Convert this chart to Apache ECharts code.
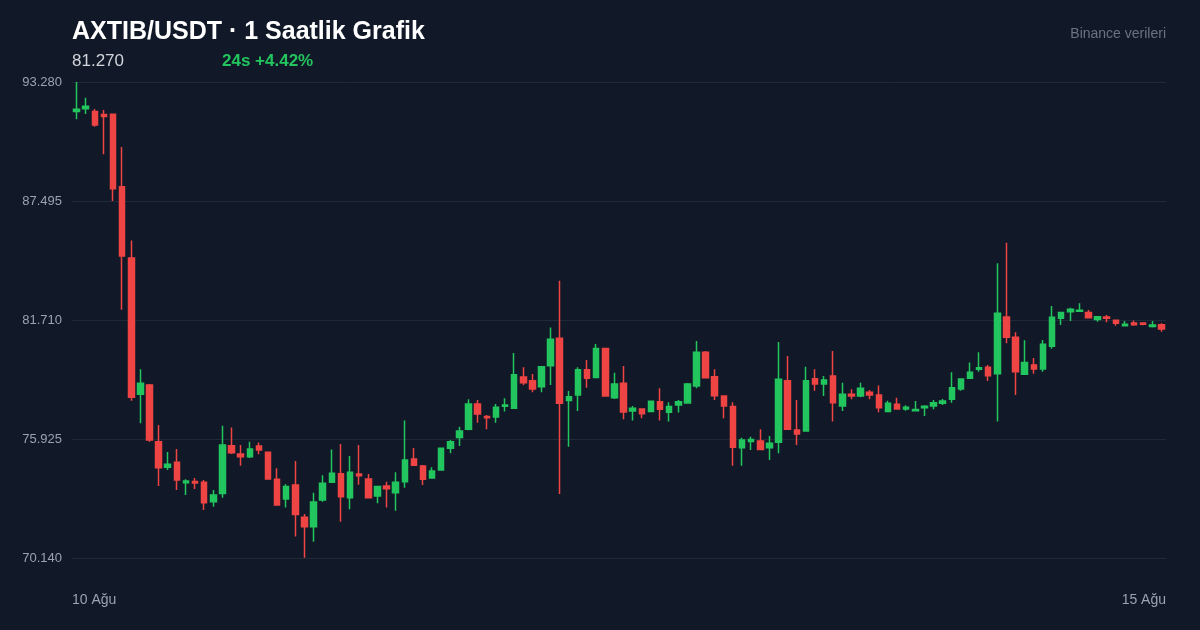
<!DOCTYPE html>
<html>
<head>
<meta charset="utf-8">
<title>AXTIB/USDT</title>
<script src="https://cdn.jsdelivr.net/npm/echarts@6/dist/echarts.min.js"></script>
<style>
  html, body { margin: 0; padding: 0; background: #111827; }
  #chart { width: 1200px; height: 630px; }
</style>
</head>
<body>
<div id="chart"></div>
<script>
// hourly candles, 10 Ağu -> 15 Ağu
var opens = [
    91.85, 91.98, 91.84, 91.70, 91.71, 88.19, 84.72, 78.10, 78.55, 75.79,
    74.55, 74.79, 73.80, 73.86, 73.82, 72.88, 73.27, 75.60, 75.20, 75.06,
    75.58, 75.28, 73.97, 73.01, 73.69, 72.12, 71.66, 72.96, 73.82, 74.24,
    73.07, 74.22, 73.98, 73.15, 73.64, 73.31, 73.85, 74.95, 74.61, 74.03,
    74.42, 75.47, 76.00, 76.40, 77.63, 77.02, 76.99, 77.52, 77.42, 78.94,
    78.76, 78.47, 79.49, 80.82, 77.80, 78.06, 79.29, 78.92, 80.33, 77.93,
    78.63, 77.29, 77.38, 77.26, 77.74, 77.23, 77.58, 77.68, 78.50, 80.14,
    78.95, 78.02, 77.50, 75.50, 75.80, 75.83, 75.50, 75.77, 78.76, 76.36,
    76.31, 78.86, 78.60, 78.99, 77.53, 78.10, 78.02, 78.20, 78.06, 77.26,
    77.61, 77.38, 77.30, 77.45, 77.53, 77.66, 77.86, 78.36, 78.88, 79.31,
    79.41, 79.10, 81.86, 80.87, 79.07, 79.52, 79.33, 80.43, 81.79, 82.11,
    82.14, 82.07, 81.73, 81.86, 81.70, 81.43, 81.56, 81.56, 81.40, 81.48
];
var closes = [
    91.95, 92.10, 91.19, 91.60, 88.09, 84.82, 77.95, 78.63, 75.88, 74.53,
    74.70, 73.93, 73.88, 73.78, 72.83, 73.20, 75.63, 75.26, 75.06, 75.44,
    75.39, 73.98, 72.72, 73.61, 72.26, 71.66, 72.86, 73.77, 74.26, 73.12,
    74.31, 74.14, 73.07, 73.61, 73.51, 73.82, 74.90, 74.65, 73.97, 74.37,
    75.47, 75.79, 76.31, 77.63, 77.14, 76.96, 77.47, 77.58, 79.05, 78.66,
    78.36, 79.44, 80.77, 77.66, 77.98, 79.29, 78.88, 80.33, 78.02, 78.60,
    77.24, 77.42, 77.15, 77.76, 77.37, 77.50, 77.74, 78.60, 80.14, 78.90,
    78.03, 77.53, 75.52, 75.88, 75.90, 75.42, 75.72, 78.83, 76.40, 76.17,
    78.76, 78.60, 78.79, 77.69, 78.10, 78.02, 78.39, 78.06, 77.45, 77.66,
    77.38, 77.47, 77.36, 77.52, 77.69, 77.77, 78.42, 78.84, 79.17, 79.39,
    79.00, 82.04, 80.87, 79.20, 79.64, 79.33, 80.53, 81.84, 82.07, 82.23,
    82.18, 81.82, 81.87, 81.79, 81.55, 81.50, 81.48, 81.50, 81.47, 81.27
];
var lows = [
    91.47, 91.73, 91.11, 89.77, 87.50, 82.21, 77.79, 76.69, 75.79, 73.64,
    74.42, 73.45, 73.20, 73.49, 72.47, 72.63, 73.07, 75.20, 74.63, 75.00,
    75.18, 73.95, 72.68, 72.60, 71.18, 70.15, 70.93, 72.88, 73.80, 71.90,
    72.51, 73.70, 73.05, 72.80, 72.60, 72.44, 73.56, 74.62, 73.69, 74.00,
    74.38, 75.23, 75.58, 76.35, 76.72, 76.40, 76.72, 77.26, 77.40, 78.55,
    78.20, 78.20, 78.55, 73.25, 75.55, 77.29, 78.42, 78.90, 78.00, 77.87,
    76.88, 76.82, 76.93, 77.24, 76.82, 76.77, 77.21, 77.66, 78.39, 78.88,
    77.82, 76.93, 74.63, 74.63, 75.39, 75.40, 74.90, 75.23, 76.38, 75.63,
    76.28, 78.27, 78.02, 76.77, 77.29, 77.86, 77.95, 77.86, 77.23, 77.24,
    77.36, 77.30, 77.30, 77.04, 77.37, 77.58, 77.69, 78.27, 78.86, 79.20,
    78.74, 76.77, 80.58, 78.06, 79.05, 79.10, 79.20, 80.31, 81.47, 81.66,
    82.14, 81.80, 81.63, 81.60, 81.43, 81.42, 81.43, 81.45, 81.35, 81.14
];
var highs = [
    93.28, 92.52, 91.97, 91.92, 91.75, 90.12, 85.58, 79.31, 78.60, 76.61,
    75.29, 75.44, 73.97, 74.03, 73.93, 73.45, 76.57, 76.49, 75.63, 75.79,
    75.75, 75.30, 74.50, 73.72, 74.86, 72.28, 73.31, 74.16, 75.41, 75.68,
    75.10, 75.63, 74.22, 73.65, 73.85, 74.31, 76.83, 75.49, 74.66, 74.55,
    75.50, 75.88, 76.52, 77.86, 77.82, 77.09, 77.63, 77.90, 80.11, 79.41,
    79.09, 79.47, 81.34, 83.62, 78.26, 79.41, 79.77, 80.54, 80.36, 79.14,
    79.47, 77.53, 77.40, 77.78, 78.39, 77.71, 77.82, 78.65, 80.69, 80.20,
    79.32, 78.05, 77.71, 75.99, 76.04, 76.40, 76.07, 80.64, 79.96, 77.82,
    79.44, 79.31, 78.99, 80.20, 78.66, 78.34, 78.66, 78.31, 78.52, 77.79,
    77.93, 77.56, 77.77, 77.56, 77.82, 77.87, 79.17, 78.86, 79.65, 80.14,
    79.52, 84.47, 85.47, 81.11, 80.72, 79.86, 80.74, 82.39, 82.10, 82.31,
    82.52, 82.20, 81.89, 81.95, 81.72, 81.66, 81.68, 81.58, 81.66, 81.55
];
var dayLabels = ['10 Ağu', '15 Ağu'];
var yTicks = [70.140, 75.925, 81.710, 87.495, 93.280];

var lastPrice = '81.270';
var change24 = '24s +4.42%';

var upColor = '#22c55e';
var downColor = '#ef4444';
var font = 'Liberation Sans, Arial, Helvetica, sans-serif';

var hours = [];
var candles = [];
for (var i = 0; i < opens.length; i++) {
    hours.push('h' + i);
    // echarts order: open, close, low, high
    candles.push([opens[i], closes[i], lows[i], highs[i]]);
}

var chart = echarts.init(document.getElementById('chart'));
var option = {
    backgroundColor: '#111827',
    animation: false,
    title: [
        {
            text: 'AXTIB/USDT · 1 Saatlik Grafik',
            left: 72, top: 20, padding: 0,
            textStyle: { color: '#ffffff', fontSize: 25, fontWeight: 'bold', fontFamily: font }
        },
        {
            text: lastPrice,
            left: 72, top: 53, padding: 0,
            textStyle: { color: '#d1d5db', fontSize: 17, fontWeight: 'normal', fontFamily: font }
        },
        {
            text: change24,
            left: 222, top: 53, padding: 0,
            textStyle: { color: upColor, fontSize: 17, fontWeight: 'bold', fontFamily: font }
        },
        {
            text: 'Binance verileri',
            right: 34, top: 27, padding: 0,
            textStyle: { color: '#6b7280', fontSize: 14, fontWeight: 'normal', fontFamily: font }
        }
    ],
    grid: { left: 72, right: 34, top: 82, bottom: 72 },
    xAxis: [
        {
            type: 'category',
            data: hours,
            boundaryGap: true,
            axisLine: { show: false },
            axisTick: { show: false },
            splitLine: { show: false },
            axisLabel: { show: false }
        },
        {
            // only used to place the two date labels at the plot edges
            type: 'value',
            position: 'bottom',
            min: 0, max: 1, interval: 1,
            axisLine: { show: false },
            axisTick: { show: false },
            splitLine: { show: false },
            axisLabel: {
                color: '#9ca3af',
                fontSize: 14,
                fontFamily: font,
                margin: 35,
                formatter: function (v) { return v === 0 ? dayLabels[0] : dayLabels[1]; },
                alignMinLabel: 'left',
                alignMaxLabel: 'right'
            }
        }
    ],
    yAxis: {
        type: 'value',
        min: yTicks[0],
        max: yTicks[yTicks.length - 1],
        interval: yTicks[1] - yTicks[0],
        axisLine: { show: false },
        axisTick: { show: false },
        splitLine: { lineStyle: { color: '#1f2937', width: 1 } },
        axisLabel: {
            color: '#9ca3af',
            fontSize: 13,
            fontFamily: font,
            margin: 10,
            formatter: function (v) { return v.toFixed(3); }
        }
    },
    series: [
        {
            type: 'candlestick',
            xAxisIndex: 0,
            data: candles,
            barWidth: 6,
            itemStyle: {
                color: upColor,
                color0: downColor,
                borderColor: upColor,
                borderColor0: downColor,
                borderWidth: 1.5
            }
        }
    ]
};
chart.setOption(option);
</script>
</body>
</html>
